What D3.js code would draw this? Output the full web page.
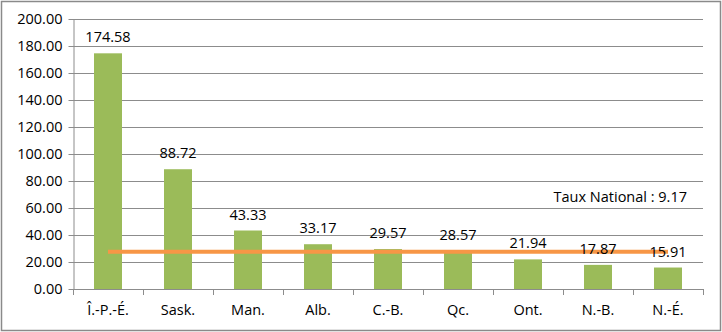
<!DOCTYPE html>
<html>
<head>
<meta charset="utf-8">
<script src="https://cdn.jsdelivr.net/npm/d3@7"></script>
<style>
  html, body { margin: 0; padding: 0; background: #fff; }
  svg text { font-family: "Open Sans", "Liberation Sans", sans-serif; fill: #000; }
</style>
</head>
<body>
<svg id="chart" width="722" height="332"></svg>
<script>
// Provinces and their rates
const provinces = ["Î.-P.-É.", "Sask.", "Man.", "Alb.", "C.-B.", "Qc.", "Ont.", "N.-B.", "N.-É."];
const rates = [174.58, 88.72, 43.33, 33.17, 29.57, 28.57, 21.94, 17.87, 15.91];
// Reference line level across the provinces
const nationalLevel = [27.6];
const nationalLabel = "Taux National : 9.17";
const yTicks = [0, 20, 40, 60, 80, 100, 120, 140, 160, 180, 200];

const W = 722, H = 332;
const margin = { left: 73, right: 19, top: 19, bottom: 43 };
const svg = d3.select("#chart");

// outer frame
svg.append("rect")
  .attr("x", 1.5).attr("y", 1.5)
  .attr("width", W - 3).attr("height", H - 3)
  .attr("fill", "#fff").attr("stroke", "#8a8a8a").attr("stroke-width", 1.5);

const x = d3.scaleBand()
  .domain(provinces)
  .range([margin.left, W - margin.right])
  .paddingInner(0.6).paddingOuter(0.3);

const y = d3.scaleLinear()
  .domain([0, 200])
  .range([H - margin.bottom, margin.top]);

// horizontal gridlines
svg.append("g")
  .selectAll("line")
  .data(yTicks.filter(d => d > 0))
  .join("line")
  .attr("x1", margin.left).attr("x2", W - margin.right)
  .attr("y1", d => Math.round(y(d)) + 0.5).attr("y2", d => Math.round(y(d)) + 0.5)
  .attr("stroke", "#8c8c8c").attr("stroke-width", 1);

// y axis
const yAxis = svg.append("g")
  .attr("transform", `translate(${margin.left + 0.5},0)`)
  .call(d3.axisLeft(y).tickValues(yTicks).tickFormat(d3.format(".2f")).tickSizeInner(5).tickSizeOuter(0).tickPadding(6));
yAxis.select(".domain").attr("stroke", "#8c8c8c");
yAxis.selectAll(".tick line").attr("stroke", "#8c8c8c");
yAxis.selectAll(".tick text").attr("font-size", 14.5).style("font-family", '"Open Sans", sans-serif').attr("fill", "#000");

// bars
svg.append("g")
  .selectAll("rect")
  .data(provinces.map((p, i) => ({ p, v: rates[i] })))
  .join("rect")
  .attr("x", d => x(d.p))
  .attr("y", d => y(d.v))
  .attr("width", x.bandwidth())
  .attr("height", d => y(0) - y(d.v))
  .attr("fill", "#9bbb59");

// x axis with ticks between categories
const step = x.step();
const xg = svg.append("g");
xg.append("line")
  .attr("x1", margin.left).attr("x2", W - margin.right)
  .attr("y1", y(0) + 0.5).attr("y2", y(0) + 0.5)
  .attr("stroke", "#8c8c8c");
xg.selectAll("line.sep")
  .data(d3.range(provinces.length + 1))
  .join("line").attr("class", "sep")
  .attr("x1", i => Math.round(margin.left + i * step) + 0.5)
  .attr("x2", i => Math.round(margin.left + i * step) + 0.5)
  .attr("y1", y(0)).attr("y2", y(0) + 6)
  .attr("stroke", "#8c8c8c");
xg.selectAll("text")
  .data(provinces)
  .join("text")
  .attr("x", d => x(d) + x.bandwidth() / 2)
  .attr("y", y(0) + 21)
  .attr("dy", "0.35em")
  .attr("text-anchor", "middle")
  .attr("font-size", 14.5)
  .text(d => d);

// national reference line
const lineGen = d3.line().x(d => d[0]).y(d => y(d[1]));
const first = provinces[0], last = provinces[provinces.length - 1];
svg.append("path")
  .attr("d", lineGen([
    [x(first) + x.bandwidth() / 2, nationalLevel[0]],
    [x(last) + x.bandwidth() / 2, nationalLevel[0]]
  ]))
  .attr("stroke", "#f79646").attr("stroke-width", 4).attr("fill", "none");

// value labels
svg.append("g")
  .selectAll("text")
  .data(provinces.map((p, i) => ({ p, v: rates[i] })))
  .join("text")
  .attr("x", d => x(d.p) + x.bandwidth() / 2)
  .attr("y", d => y(d.v) - 16)
  .attr("dy", "0.35em")
  .attr("text-anchor", "middle")
  .attr("font-size", 14.5)
  .text(d => d.v.toFixed(2));

// national rate note
svg.append("text")
  .attr("x", 687).attr("y", 197)
  .attr("dy", "0.35em")
  .attr("text-anchor", "end")
  .attr("font-size", 14.5)
  .text(nationalLabel);
</script>
</body>
</html>
